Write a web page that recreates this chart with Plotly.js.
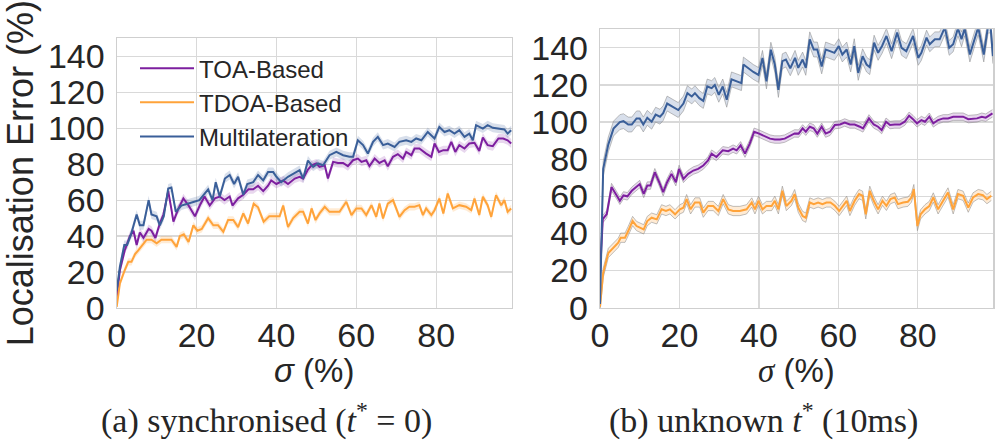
<!DOCTYPE html>
<html>
<head>
<meta charset="utf-8">
<script src="https://cdn.plot.ly/plotly-3.0.1.min.js"></script>
<style>html,body{margin:0;padding:0;background:#fff}#chart{width:997px;height:443px}</style>
</head>
<body>
<div id="chart"></div>
<script>
// ---------- Data ----------
const seriesNames = ['TOA-Based', 'TDOA-Based', 'Multilateration'];
const xTicks = [0, 20, 40, 60, 80];
const yTicks = [0, 20, 40, 60, 80, 100, 120, 140];

// (a) synchronised
const xTOA_a = [0,0.8,2,3.3,4.2,5,5.8,6.7,8,8.7,9.7,10.8,11.7,12.9,13.7,14.2,15.4,16.7,18,19.6,20.8,22,23.3,24.6,25.8,27,28.3,29,30.4,31.7,33,34.2,35.4,36.7,37.9,38.7,40,41.7,42.9,44.6,45.8,46.7,47.9,48.8,50,50.8,52.1,52.9,54.2,55.4,56.7,57.9,59.2,60.4,61.3,62.5,63.3,64.6,65.8,67.1,67.9,69.2,70.4,71.7,72.5,73.8,74.6,75.8,77.5,78.8,79.6,80.7,81.8,82.9,83.8,84.8,85.8,87.1,88.3,89.6,90.8,91.7,92.9,94.2,95.6,96.8,97.9,98.8];
const yTOA_a = [6,21,32,40,43,35,42,39,44,43,39,47,52,65,55,48,55,61,57,51,57,62,57,61,62,60,62,57,61,63,66,66,68,65,68,71,69,71,69,72,73,72,77,79.4,80.4,78.5,79.4,72,81.3,80.7,80.7,78.9,82.2,83.1,81.3,82.2,78.9,83.1,80.7,82.2,78.9,84.1,85.6,83.1,86.8,85,88.7,88.7,85.9,84.1,91.5,86.8,87.8,87.8,92.4,86.8,90.6,88.7,91.5,91.9,87.4,94.8,90.6,90,94.3,94.3,93.3,91.5];

const xTDOA_a = [0,0.8,2,2.9,3.7,4.6,5.4,6.7,7.5,8.7,10,11.2,12.5,13.7,15,15.8,16.8,18,19.2,20.2,21.3,22.9,24.2,25.4,26.7,27.9,29.2,30.4,31.7,32.9,34.3,35.4,36.8,38.2,39.6,40.8,41.7,42.9,44.2,45.8,46.7,47.9,48.8,49.8,50.8,52.1,53.3,54.6,55.8,57.5,58.8,60,61.3,62.5,63.8,65,65.8,66.7,67.9,69.2,70.8,72.1,73.3,74.6,75.8,76.7,77.5,78.8,79.6,80.8,81.8,82.9,84.2,85.8,87.5,88.8,89.6,90.8,91.7,92.9,93.8,95,96.3,97.1,97.9,98.8];
const yTDOA_a = [0.7,13.7,21,25.7,25.7,30,32,36,38,38,36,38,38,38,34,40,41,36.7,46,43,44,50,46,46,42.4,49,49,45,52.6,47,58,56,48,51,51,51,57,45,50,53.5,53.5,47,55.4,48.9,52.6,56.3,53.5,53.5,53.5,59.1,51.7,55.4,55.4,51.7,57.2,50.7,58.1,49.8,58.1,60,50.7,54.4,56.3,56.3,57.2,51.7,55.4,51.7,54.4,60.9,52.6,63.7,55.4,57.2,56.3,54.4,60.9,51.7,61.9,57.2,50.7,62.8,57.2,60,53.5,55.4];

const xMUL_a = [0,0.8,1.9,2.6,3.6,5,5.8,6.7,8,8.7,10,10.8,11.8,12.9,13.7,14.8,16.2,18,19.2,20.7,22.1,22.9,24,24.8,25.8,27.1,28.3,29.4,30.4,31.7,32.7,34.2,35.4,36.7,37.9,39.2,40,41.2,42.9,44.6,45.8,46.7,47.9,49.2,50.4,51.7,53.3,55,56.7,58.3,59.2,60.4,61.7,62.9,64.2,65.4,66.7,67.9,69.6,70.8,72.5,73.8,75,76.3,77.9,79.6,80.8,82.1,83.3,84.6,85.8,87.1,88.3,89.2,90,91.7,92.9,94.2,95.8,97.1,97.9,98.8];
const yMUL_a = [9.7,23,35,35,41,52,46,46,60,52,51,46,51,66.5,67,53.5,57,58,59,60,63.7,66,60,70,62,72,74,69,73,63,69,70,74,71,75.6,75.6,73,70,73,75,76.7,72,82,78.5,80.4,79.4,85,86.8,85,84.1,84.1,93.3,90.6,85.9,92.4,95.2,90.6,91.5,89.6,92.4,93.3,92.4,94.3,93.3,97.9,94.3,100.7,97.9,98.9,97,98.9,95.2,97,93.3,101.7,99.8,101.7,100.2,99.8,99.3,97,98.9];

// (b) unknown t*
const xTOA_b = [0,0.7,1.7,2.9,4.2,5,5.9,6.9,8,9.2,10,11,11.9,12.7,13.8,14.9,15.9,16.9,18,19.1,19.9,21,22.2,23.5,24.7,26,27.2,28.1,29.3,30.9,32.3,33.5,34.4,35.4,36.5,37.7,38.8,39.9,41.1,42.8,44,45.3,46.5,47.8,49,50,51,51.8,52.8,53.8,54.7,55.8,56.8,57.9,59.1,60.4,61.6,62.9,64.1,65.4,66.2,67.7,68.9,70,70.9,72,73,74.2,75.5,76.7,77.8,78.8,79.8,80.9,81.8,82.9,83.9,85.1,86.4,87.6,88.9,90.1,91.4,92.7,93.8,94.9,96.1,97.1,98.1,98.8];
const yTOA_b = [18,47.7,50.4,65,60.5,57.6,60.5,60,63,65,66.6,61.3,65.8,65.8,73,67.6,62.2,67.6,72.1,67.6,74.8,69.4,72.1,73.9,74.8,76.6,79.4,83,81.2,84.8,84.3,85.7,84.8,87.5,83,88.4,94.8,93.9,92.6,91.1,90.6,90.6,91.1,92.6,93.9,93.8,96.6,94.8,97.5,96.6,93.8,97.5,93.8,94.8,98.4,98.7,99.8,98.7,98.7,97.5,96.6,102,98.7,97.5,95.7,100.2,98.4,98.7,98.7,100.2,103.4,101.6,99.3,101.1,100.2,102.9,99.3,101.1,102,102,102.9,102.9,102.9,101.6,102,102,102.9,102.4,103.8,104.7];

const xTDOA_b = [0,0.8,2.1,3.4,4.6,5.2,6.3,7.1,8.2,9.2,10,11,11.9,13,14.3,15.5,16.6,17.6,18.9,20.1,21,21.8,22.8,23.9,25.1,26,27.2,28.5,29.8,31,32.3,33.5,35.2,36.9,38.2,39,39.9,40.9,41.9,43.2,44,44.9,45.9,46.9,48.2,49,49.9,51,51.8,52.8,53.8,54.9,56,57,58,59.1,60.2,61.2,62.1,62.9,64.1,65.2,66.1,66.9,67.9,68.9,70,71.1,72.1,73.1,74.2,75,76.3,77.5,78.4,79,79.9,80.7,81.8,82.9,83.9,85.1,86.4,87.6,88.9,90.1,91.4,92.7,93.9,95.2,96.4,97.4,98.5];
const yTDOA_b = [0.5,18.7,29.5,32.3,35,37.7,37.7,41.3,46.7,44,43.1,42.2,46.7,48.5,47.6,53,52.1,53,50.3,53,53.9,58.5,53,56.7,56.7,51.2,54.8,54.8,52.1,58.5,53,52.1,52.1,53,56.7,53,57.6,53,54.8,54.8,57.6,53,63,54.8,57.6,61.2,53.9,49.4,48.5,56.7,55.8,56.7,55.8,56.7,56.7,54.9,52.1,54.9,57.6,52.1,57.6,61.2,60.3,50.3,63,57.6,53,57.6,54.9,58.5,59.4,55.8,56.7,57.1,59.4,63.9,44,50.3,53,54.8,59.4,53,57.6,62.1,53,61.2,60.3,53.9,59.4,61.2,60.6,58.5,60.3];

const xMUL_b = [0,0.8,2.1,3.4,5,5.9,7.1,8,9.2,10,10.9,11.9,13,14,15.1,15.9,16.9,18.3,19.7,21,22,23.1,23.9,25,26,27,28.1,28.9,29.9,30.9,31.9,33.1,34.4,35.6,36.1,37.3,38.6,39.9,40.9,41.9,43,44,44.9,45.9,46.8,47.9,49.1,49.9,51,51.8,52.8,53.8,54.7,55.8,56.8,57.9,59,60.1,61,62.1,63.1,64,65,66.1,67.1,67.9,69,70,71,72.1,73.4,74.8,75.9,77.1,78.8,80.1,80.9,82.2,83,84.3,85.5,86.8,87.9,88.9,90.1,91,91.8,93.1,94.1,95.2,96.6,97.7,98.3,98.9];
const yMUL_b = [2,74.8,88,96.5,100,100.5,98.7,98.7,102,102,98.7,102.3,100.2,104,102.9,104.8,110,108.3,106.5,110,115.6,113.8,115.6,112.9,111.4,119.2,118.3,120,114.7,119.2,112,123,122,121,131,129,127,125.4,134.6,121.9,139,131,117.3,132.8,133.7,129,134.6,129.2,133.7,129.2,144.6,139.1,139.1,130,139.1,138.2,137.3,140.9,136.4,139.1,131,140.9,126.5,135.5,131,129.6,142.8,137.3,141,146.4,138.2,148.2,140,138.2,146.4,134.6,137.3,145.5,141.9,144.6,144.6,151,140,141.9,150.5,144.6,150.5,136.4,143.7,151,136.4,152,152,135.5];

// confidence half-widths
const ciA = {TOA: 2.5, TDOA: 2.0, MUL: 2.5};
const ciB = {TOA: 2.0, TDOA: 2.5, MUL: 4.0};

// ---------- Styles ----------
const colors = {TOA: '#7d1f9f', TDOA: '#ffa33a', MUL: '#3a5f99'};
const fills = {TOA: 'rgba(125,31,159,0.18)', TDOA: 'rgba(255,163,58,0.22)', MUL: 'rgba(58,95,153,0.2)'};
const txt = '#262626';
const sans = 'Liberation Sans, Arial, sans-serif';
const serif = 'Liberation Serif, DejaVu Serif, serif';

function band(x, y, ci, key, xa, ya, edge) {
  const up = y.map(v => v + ci), lo = y.map(v => v - ci);
  const eline = edge ? {color: 'rgba(140,140,140,0.55)', width: 1} : {width: 0, color: 'rgba(0,0,0,0)'};
  return [
    {x: x, y: up, xaxis: xa, yaxis: ya, mode: 'lines', line: eline, showlegend: false, hoverinfo: 'skip'},
    {x: x, y: lo, xaxis: xa, yaxis: ya, mode: 'lines', line: eline, fill: 'tonexty', fillcolor: fills[key], showlegend: false, hoverinfo: 'skip'}
  ];
}
function line(x, y, key, name, xa, ya, show) {
  return {x: x, y: y, xaxis: xa, yaxis: ya, mode: 'lines', name: name, line: {color: colors[key], width: 2}, showlegend: show};
}

const traces = [].concat(
  band(xTDOA_a, yTDOA_a, ciA.TDOA, 'TDOA', 'x', 'y', false),
  band(xTOA_a, yTOA_a, ciA.TOA, 'TOA', 'x', 'y', false),
  band(xMUL_a, yMUL_a, ciA.MUL, 'MUL', 'x', 'y', false),
  [line(xTOA_a, yTOA_a, 'TOA', seriesNames[0], 'x', 'y', true),
   line(xTDOA_a, yTDOA_a, 'TDOA', seriesNames[1], 'x', 'y', true),
   line(xMUL_a, yMUL_a, 'MUL', seriesNames[2], 'x', 'y', true)],
  band(xTDOA_b, yTDOA_b, ciB.TDOA, 'TDOA', 'x2', 'y2', true),
  band(xTOA_b, yTOA_b, ciB.TOA, 'TOA', 'x2', 'y2', true),
  band(xMUL_b, yMUL_b, ciB.MUL, 'MUL', 'x2', 'y2', true),
  [line(xTOA_b, yTOA_b, 'TOA', seriesNames[0], 'x2', 'y2', false),
   line(xTDOA_b, yTDOA_b, 'TDOA', seriesNames[1], 'x2', 'y2', false),
   line(xMUL_b, yMUL_b, 'MUL', seriesNames[2], 'x2', 'y2', false)]
);

function xax(domain) {
  return {domain: domain, range: [0, 99], tickvals: xTicks, ticks: '', showgrid: true,
    gridcolor: '#d9d9d9', gridwidth: 1.2, showline: true, linecolor: '#cfcfcf', linewidth: 1.2, mirror: true,
    zeroline: false, tickfont: {family: sans, size: 34, color: txt}, ticklabelstandoff: -3};
}
function yax(domain, anchor, withTitle) {
  const a = {domain: domain, anchor: anchor, range: [0, 150], tickvals: yTicks, ticks: '', showgrid: true,
    gridcolor: '#d9d9d9', gridwidth: 1.2, showline: true, linecolor: '#cfcfcf', linewidth: 1.2, mirror: true,
    zeroline: false, tickfont: {family: sans, size: 34, color: txt}, ticklabelstandoff: 4};
  if (withTitle) a.title = {text: 'Localisation Error (%)', font: {family: sans, size: 36, color: txt}, standoff: 4};
  return a;
}

const L = 116.7, R1 = 512, L2 = 600, R2 = 993.3;
const layout = {
  width: 997, height: 443, margin: {l: 0, r: 0, t: 0, b: 0},
  paper_bgcolor: '#fff', plot_bgcolor: '#fff',
  xaxis: Object.assign(xax([L / 997, R1 / 997]), {anchor: 'y'}),
  yaxis: yax([0.3047, 0.9135], 'x', true),
  xaxis2: Object.assign(xax([L2 / 997, R2 / 997]), {anchor: 'y2'}),
  yaxis2: yax([0.3054, 0.9339], 'x2', false),
  showlegend: true,
  legend: {x: 135 / 997, xanchor: 'left', y: 0.896, yanchor: 'top', bgcolor: 'rgba(0,0,0,0)', borderwidth: 0,
    traceorder: 'normal', itemwidth: 54, font: {family: sans, size: 24, color: txt}, tracegroupgap: 0},
  annotations: [
    // x-axis titles
    {xref: 'paper', yref: 'paper', x: (L + R1) / 2 / 997, y: 1 - 370 / 443, xanchor: 'center', yanchor: 'middle', showarrow: false,
     text: '<i>σ</i> (%)', font: {family: sans, size: 33, color: txt}},
    {xref: 'paper', yref: 'paper', x: (L2 + R2) / 2 / 997, y: 1 - 370 / 443, xanchor: 'center', yanchor: 'middle', showarrow: false,
     text: '<span style="font-family:Liberation Serif, DejaVu Serif, serif"><i>σ</i></span> (%)', font: {family: sans, size: 33, color: txt}},
    // sub-figure captions
    {xref: 'paper', yref: 'paper', x: 266 / 997, y: 1 - 418 / 443, xanchor: 'center', yanchor: 'middle', showarrow: false,
     text: '(a) synchronised (<i>t</i><sup>*</sup> = 0)', font: {family: serif, size: 34, color: txt}},
    {xref: 'paper', yref: 'paper', x: 763 / 997, y: 1 - 418 / 443, xanchor: 'center', yanchor: 'middle', showarrow: false,
     text: '(b) unknown <i>t</i><sup>*</sup> (10ms)', font: {family: serif, size: 34, color: txt}}
  ]
};

Plotly.newPlot('chart', traces, layout, {displayModeBar: false, staticPlot: true});
</script>
</body>
</html>
